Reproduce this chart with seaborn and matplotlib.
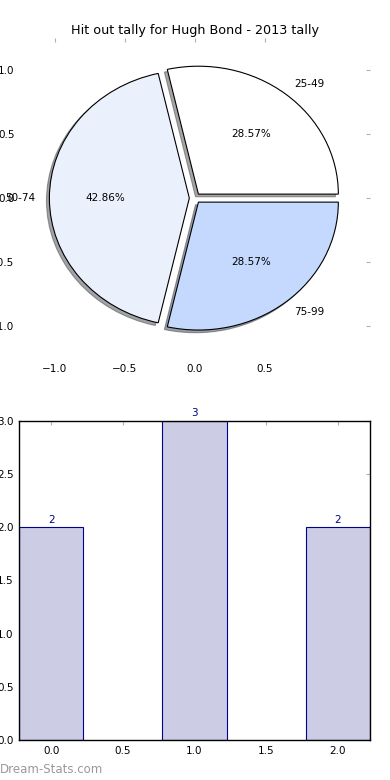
import pandas as pd
import seaborn as sns
import matplotlib.pyplot as plt

# data
labels = ['25-49', '50-74', '75-99']
tally = [2, 3, 2]
bar_pos = [0, 1, 2]
pie_colors = ['#ffffff', '#eaf1fd', '#c5d8fd']
explode = [0.04, 0.04, 0.04]
pie_xticks = [-1.0, -0.5, 0.0, 0.5]
pie_yticks = [-1.0, -0.5, 0.0, 0.5, 1.0]

sns.set_style("white")
plt.rcParams['font.family'] = ['DejaVu Sans']
plt.rcParams['text.color'] = 'black'
plt.rcParams['xtick.labelcolor'] = 'black'
plt.rcParams['ytick.labelcolor'] = 'black'

fig = plt.figure(figsize=(3.9, 7.8), dpi=100)

# pie (shadow offset is scaled into data units by matplotlib)
ax1 = fig.add_axes([0.0513, 0.541, 0.897, 0.410])
ax1.pie(tally, labels=labels, colors=pie_colors, explode=explode,
        autopct='%.2f%%', startangle=0, frame=True,
        shadow={'ox': -0.015, 'oy': -0.015},
        wedgeprops={'edgecolor': 'black', 'linewidth': 0.8},
        textprops={'fontsize': 7.5, 'color': 'black'})
ax1.set_aspect('auto')
ax1.set_xlim(-1.25, 1.25)
ax1.set_ylim(-1.25, 1.25)
ax1.set_xticks(pie_xticks)
ax1.set_yticks(pie_yticks)
for s in ax1.spines.values():
    s.set_visible(False)
ax1.tick_params(direction='in', top=True, right=True, length=3,
                color='#b0b0b0', labelcolor='black', labelsize=7.5, pad=4)
ax1.set_title("Hit out tally for Hugh Bond - 2013 tally", fontsize=9.2, pad=3, color='black')

# bars
ax2 = fig.add_axes([0.0487, 0.0513, 0.9, 0.409])
df = pd.DataFrame({'pos': bar_pos, 'count': tally})
sns.barplot(data=df, x='pos', y='count', native_scale=True, width=0.45,
            color='#ccccE5', saturation=1, edgecolor='#00008b',
            linewidth=0.8, errorbar=None, ax=ax2)
ax2.bar_label(ax2.containers[0], padding=2, color='#00008b', fontsize=7.5)
ax2.set_xlim(-0.225, 2.225)
ax2.set_ylim(0, 3)
ax2.set_xlabel('')
ax2.set_ylabel('')
for s in ax2.spines.values():
    s.set_visible(True)
    s.set_color('black')
    s.set_linewidth(1)
ax2.tick_params(direction='in', top=True, right=True, length=3,
                color='#b0b0b0', labelcolor='black', labelsize=7.5, pad=4)

fig.text(0.0, 0.013, 'Dream-Stats.com', color='#999999', fontsize=8.5, ha='left', va='center')

plt.savefig("out.png", dpi=100)
